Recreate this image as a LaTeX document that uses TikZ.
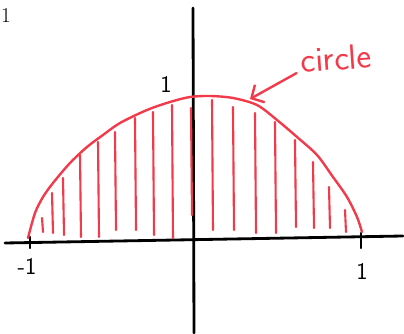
\documentclass[tikz,border=0pt]{standalone}
\usepackage{tikz}
\usetikzlibrary{
    arrows.meta,
    positioning
}
\definecolor{pen}{RGB}{242,58,74}

\begin{document}
\begin{tikzpicture}[
        x=0.025cm, y=-0.025cm,
        axis/.style={draw, line width=2pt, line cap=round},
        curve/.style={draw=pen, line width=1.7pt, line cap=round},
        hatch/.style={draw=pen, line width=1.5pt, line cap=round},
        tick/.style={draw, line width=1.6pt, line cap=round},
        lbl/.style={font=\sffamily\fontsize{17}{17}\selectfont, inner sep=0pt},
        arr/.style={-{Straight Barb[length=2.4mm, width=5mm]}, draw=pen, line width=1.7pt, line cap=round},
    ]
        \useasboundingbox (0,0) rectangle (404,334);

        % Printed label, top left
        \node[font=\fontsize{15}{15}\selectfont, inner sep=0pt] (one) at (6,16) {1};

        % Axes
        \coordinate (xl) at (5,243);
        \coordinate (xr) at (403,236);
        \coordinate (yt) at (193,8);
        \coordinate (yb) at (194,333);
        \draw[axis] (xl) -- (xr);
        \draw[axis] (yt) -- (yb);

        % Ticks
        \coordinate (tl) at (30,237);
        \coordinate (tr) at (361,233);
        \draw[tick] (tl) -- ++(0,11);
        \draw[tick] (tr) -- ++(0,15);
        \node[lbl] (xmin) at (27,266) {-1};
        \node[lbl] (xmax) at (362,271) {1};
        \node[lbl] (ymax) at (166,84) {1};

        % Hatching under the arc
        \foreach \x/\t/\b in {42/218/232, 52/193/233, 63/178/235, 80/155/237, 98/142/237,
                              115/132/230, 135/118/230, 153/112/235, 172/105/238, 191/108/215,
                              212/100/230, 233/107/230, 255/113/233, 275/122/233, 295/140/227,
                              313/162/228, 329/187/228, 345/210/232}
            \draw[hatch] (\x,\t) -- (\x+1,\b);

        % Arc
        \draw[curve] plot[smooth, tension=0.5] coordinates {
            (28,238) (35,213) (43,197) (53,183) (70,163) (87,147) (103,135)
            (120,123) (147,110) (170,102) (190,97) (210,96) (233,98) (257,105)
            (277,120) (297,137) (317,155) (333,177) (347,197) (357,217) (362,232)};

        % Label and arrow
        \node[text=pen, font=\sffamily\fontsize{25}{25}\selectfont, inner sep=2pt, rotate=4] (circ) at (336,58) {circle};
        \coordinate (tip) at (250,99);
        \draw[arr] (circ.south west) ++(-2,-3) -- (tip);
    \end{tikzpicture}
\end{document}
